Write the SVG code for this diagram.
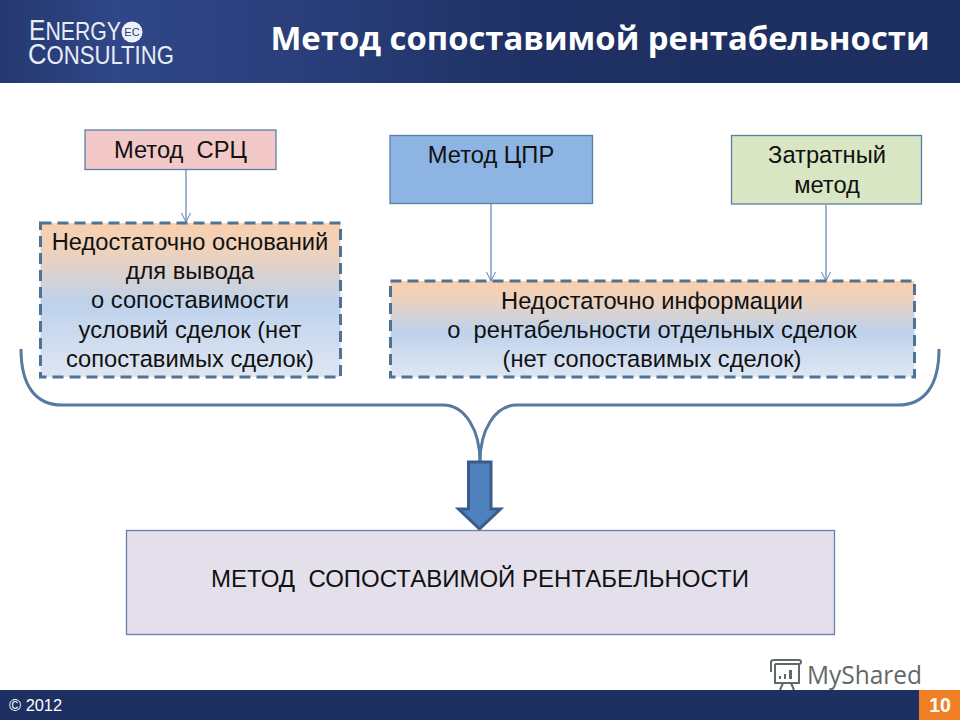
<svg xmlns="http://www.w3.org/2000/svg" width="960" height="720" viewBox="0 0 960 720">
<defs>
<linearGradient id="hdr" x1="0" y1="0" x2="1" y2="0"><stop offset="0" stop-color="#25386f"/><stop offset="0.12" stop-color="#2f4788"/><stop offset="0.3" stop-color="#2a3f7c"/><stop offset="0.55" stop-color="#1f3164"/><stop offset="1" stop-color="#1d2f60"/></linearGradient>
<linearGradient id="warm" x1="0" y1="0" x2="0" y2="1"><stop offset="0" stop-color="#f9cfae"/><stop offset="0.2" stop-color="#ecd2bd"/><stop offset="0.52" stop-color="#bed2ec"/><stop offset="1" stop-color="#dfe6f3"/></linearGradient>
<marker id="arr" markerWidth="12" markerHeight="10" refX="10" refY="5" orient="auto" markerUnits="userSpaceOnUse"><path d="M1 0.5L10 5L1 9.5" fill="none" stroke="#5b83ad" stroke-width="1"/></marker>
</defs>
<style>
text{font-family:"Liberation Sans",Arial,sans-serif;fill:#111;text-anchor:middle}
.t{font-size:23.7px}
.box{stroke:#5b7fa6;stroke-width:1.3}
.dash{fill:url(#warm);stroke:#4f7396;stroke-width:3;stroke-dasharray:11 6}
.conn{fill:none;stroke:#5b83ad;stroke-width:1.2}
.brace{fill:none;stroke:#567aa0;stroke-width:3}
.logo{fill:#e8edf5;text-anchor:start;font-size:25px}
.cap{font-size:29px}
</style>
<rect width="960" height="720" fill="#fff"/>
<g id="header"><rect width="960" height="83" fill="url(#hdr)"/>
<text x="600" y="50" style="font-size:32.850px;font-weight:bold;fill:#fff;font-family:'Open Sans','Liberation Sans',sans-serif">Метод сопоставимой рентабельности</text></g>
<g id="logo">
<text class="logo" transform="translate(29 40) scale(.85 1)"><tspan class="cap">E</tspan>NERGY</text>
<circle cx="132" cy="32" r="10.500" fill="#eef1f6"/>
<text x="132" y="36" style="font-size:11px;fill:#2a3f7c">EC</text>
<text class="logo" transform="translate(28 64) scale(.885 1)"><tspan class="cap">C</tspan>ONSULTING</text>
</g>
<g id="connectors">
<line class="conn" x1="186" y1="170" x2="186" y2="222" marker-end="url(#arr)"/>
<line class="conn" x1="491" y1="204" x2="491" y2="281" marker-end="url(#arr)"/>
<line class="conn" x1="826" y1="205" x2="826" y2="281" marker-end="url(#arr)"/>
<path class="brace" d="M21 349C21 385 35 405 62 405H443C465 405 480 430 480 462"/>
<path class="brace" d="M939 349C939 385 925 405 898 405H517C495 405 480 430 480 462"/>
</g>
<g id="node-src"><rect class="box" x="85" y="130" width="191" height="39.500" fill="#f2c8c9"/>
<text class="t" x="180.500" y="158" xml:space="preserve">Метод  СРЦ</text></g>
<g id="node-cpr"><rect class="box" x="390" y="135.500" width="202.500" height="68" fill="#8db4e2"/>
<text class="t" x="491" y="163">Метод ЦПР</text></g>
<g id="node-cost"><rect class="box" x="731.500" y="135.500" width="190" height="68.500" fill="#d8e6c4"/>
<text class="t" x="827" y="163">Затратный</text><text class="t" x="827" y="193">метод</text></g>
<g id="node-left"><rect class="dash" x="40.500" y="223" width="300" height="154"/>
<text class="t" x="190" y="250">Недостаточно оснований</text>
<text class="t" x="190" y="279">для вывода</text>
<text class="t" x="190" y="308">о сопоставимости</text>
<text class="t" x="190" y="338">условий сделок (нет</text>
<text class="t" x="190" y="367">сопоставимых сделок)</text></g>
<g id="node-right"><rect class="dash" x="390.500" y="281" width="524" height="96"/>
<text class="t" x="652" y="309">Недостаточно информации</text>
<text class="t" x="652" y="338" xml:space="preserve">о  рентабельности отдельных сделок</text>
<text class="t" x="652" y="367">(нет сопоставимых сделок)</text></g>
<g id="big-arrow"><path d="M468.500 462H491V509H500.500L479.500 529L458.500 509H468.500Z" fill="#4f81bd" stroke="#385d8a" stroke-width="3"/></g>
<g id="node-result"><rect x="126.500" y="530.500" width="708" height="104" fill="#e3e0eb" stroke="#6a7fb0" stroke-width="1.300"/>
<text class="t" x="480" y="587" style="font-size:24px" xml:space="preserve">МЕТОД  СОПОСТАВИМОЙ РЕНТАБЕЛЬНОСТИ</text></g>
<g id="watermark">
<g fill="none" stroke="#5f6968" stroke-width="2"><path d="M775 664V683H799V664"/><path d="M771 672V662Q771 660 774 660H799Q801 660 801 662Q801 664 799 664H775"/><path d="M783 683L780 690M791 683L794 690"/></g>
<path d="M779 679h2v-3h-2zM784 679h2v-5h-2zM789 679h3v-9h-3z" fill="#5f6968"/>
<text x="807" y="683.500" style="font-size:26px;fill:#5f6968;text-anchor:start;font-family:'Open Sans','Liberation Sans',sans-serif" textLength="115" lengthAdjust="spacingAndGlyphs">MyShared</text></g>
<g id="footer"><rect y="690" width="960" height="30" fill="#1e2f61"/>
<text x="9" y="711" style="font-size:16.400px;fill:#fff;text-anchor:start">© 2012</text>
<rect x="919" y="690" width="41" height="30" fill="#f07f26"/>
<text x="940" y="712" style="font-size:19.500px;font-weight:bold;fill:#fff">10</text></g>
</svg>
